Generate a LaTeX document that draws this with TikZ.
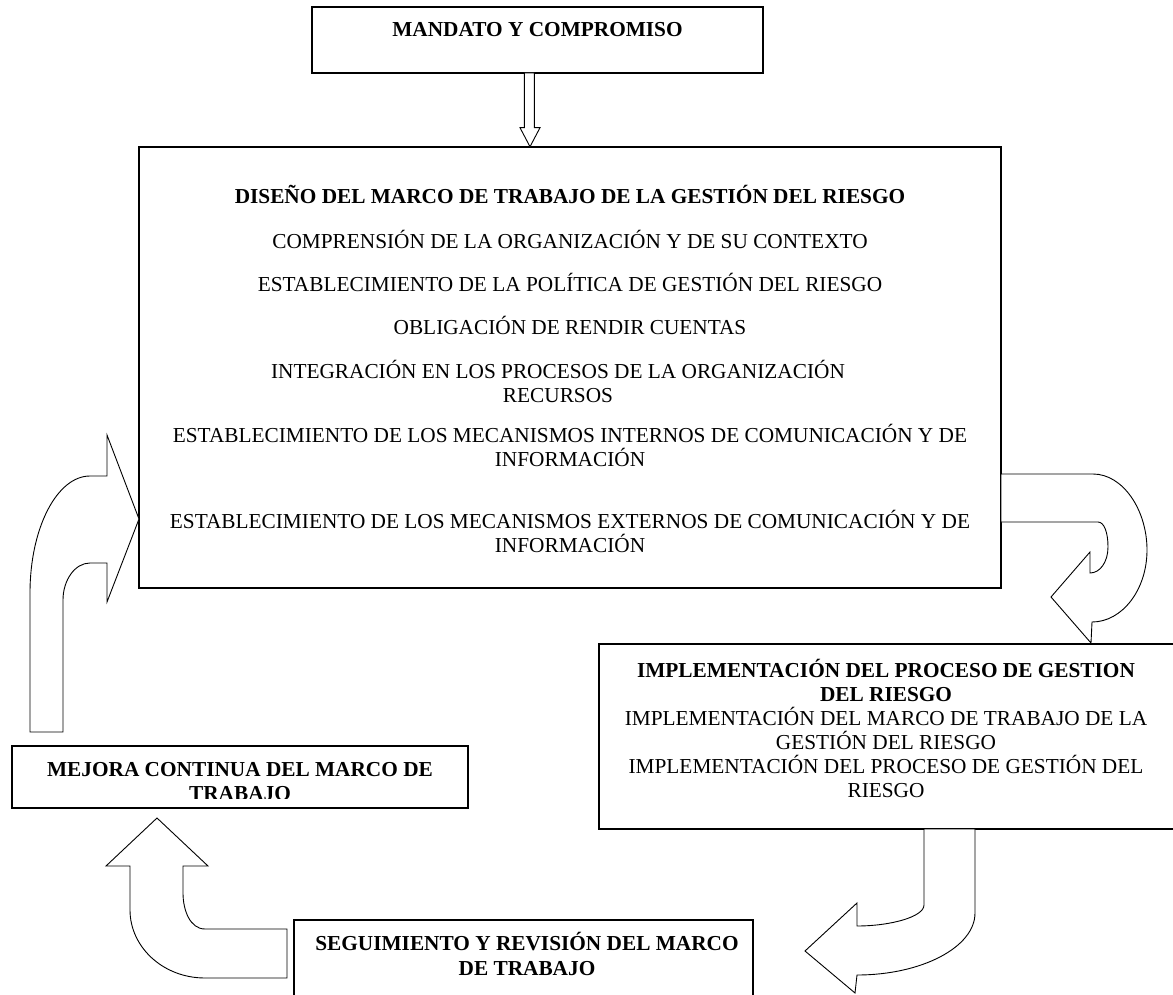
\documentclass[tikz,border=0pt]{standalone}
\usepackage{fontspec}
\setmainfont{Liberation Serif}
\begin{document}
\begin{tikzpicture}[x=1pt,y=-1pt,
  box/.style={draw, line width=1.1pt, inner sep=0pt, rectangle},
  arr/.style={draw, line width=0.9pt, line join=miter, fill=white},
  txt/.style={font=\fontsize{21.3}{24.5}\selectfont, inner sep=0pt, anchor=base},
  btxt/.style={txt, font=\fontsize{21.3}{24.5}\selectfont\bfseries}]
\useasboundingbox (0,0) rectangle (1173,995);

% boxes
\node[box, minimum width=451pt, minimum height=66pt] (mandato) at (537.5,40) {};
\node[box, minimum width=862pt, minimum height=441pt] (main) at (570,367.5) {};
\node[box, minimum width=581pt, minimum height=185pt] (impl) at (889.5,736.5) {};
\node[box, minimum width=456pt, minimum height=62pt] (mejora) at (240,777) {};
\node[box, minimum width=459pt, minimum height=80pt] (seg) at (523.5,960) {};

% texts
\node[btxt] (tm) at (537.5,37) {MANDATO Y COMPROMISO};

\node[btxt] (d0) at (570,204) {DISEÑO DEL MARCO DE TRABAJO DE LA GESTIÓN DEL RIESGO};
\node[txt] (d1) at (570,248) {COMPRENSIÓN DE LA ORGANIZACIÓN Y DE SU CONTEXTO};
\node[txt] (d2) at (570,291) {ESTABLECIMIENTO DE LA POLÍTICA DE GESTIÓN DEL RIESGO};
\node[txt] (d3) at (570,334) {OBLIGACIÓN DE RENDIR CUENTAS};
\node[txt] (d4) at (558,378) {INTEGRACIÓN EN LOS PROCESOS DE LA ORGANIZACIÓN};
\node[txt] (d5) at (558,402) {RECURSOS};
\node[txt] (d6) at (570,442) {ESTABLECIMIENTO DE LOS MECANISMOS INTERNOS DE COMUNICACIÓN Y DE};
\node[txt] (d7) at (570,466) {INFORMACIÓN};
\node[txt] (d8) at (570,528) {ESTABLECIMIENTO DE LOS MECANISMOS EXTERNOS DE COMUNICACIÓN Y DE};
\node[txt] (d9) at (570,552) {INFORMACIÓN};

\node[btxt] (i0) at (886,677) {IMPLEMENTACIÓN DEL PROCESO DE GESTION};
\node[btxt] (i1) at (886,701) {DEL RIESGO};
\node[txt] (i2) at (886,725) {IMPLEMENTACIÓN DEL MARCO DE TRABAJO DE LA};
\node[txt] (i3) at (886,749) {GESTIÓN DEL RIESGO};
\node[txt] (i4) at (886,773) {IMPLEMENTACIÓN DEL PROCESO DE GESTIÓN DEL};
\node[txt] (i5) at (886,797) {RIESGO};

\begin{scope}
  \clip (12,746) rectangle (468,798);
  \node[btxt] (m0) at (240,776) {MEJORA CONTINUA DEL MARCO DE};
  \node[btxt] (m1) at (240,800) {TRABAJO};
\end{scope}

\node[btxt] (s0) at (527,950) {SEGUIMIENTO Y REVISIÓN DEL MARCO};
\node[btxt] (s1) at (527,975) {DE TRABAJO};

% down block arrow mandato -> main
\path[arr] (524.3,73) -- (524.3,127.7) -- (520,127.7) -- (530,146.7) -- (540,127.7)
  -- (534.3,127.7) -- (534.3,73) -- cycle;

% left curved arrow (mejora -> main)
\path[arr] (30,732) -- (30,593) .. controls (30,528) and (57,476) .. (90,476)
  -- (107,476) -- (107,435) -- (139,519) -- (107,602) -- (107,563) -- (90,563)
  .. controls (75,563) and (63,580) .. (63,600) -- (63,732) -- cycle;

% right curved arrow (main -> impl)
\path[arr] (1001,474) -- (1093,474) .. controls (1123,474) and (1147,510) .. (1147,550)
  .. controls (1147,590) and (1122,622) .. (1092,622) -- (1091,643) -- (1051,597)
  -- (1090,552) -- (1090,573) .. controls (1100,573) and (1108,562) .. (1108,547)
  .. controls (1108,532) and (1104,522) .. (1098,522) -- (1001,522) -- cycle;

% bottom right arrow (impl -> seg)
\path[arr] (924,829) -- (924,905) .. controls (924,917) and (890,926) .. (857,926)
  -- (857,903) -- (805,951) -- (855,993) -- (857,975)
  .. controls (922,975) and (975,947) .. (975,913) -- (975,829) -- cycle;

% bottom left arrow (seg -> mejora)
\path[arr] (287,929) -- (205,929) .. controls (190,929) and (183,910) .. (183,893)
  -- (183,866) -- (208,866) -- (157,818) -- (106,866) -- (130,866) -- (130,910)
  .. controls (130,947) and (163,978) .. (205,978) -- (287,978) -- cycle;
\end{tikzpicture}
\end{document}
